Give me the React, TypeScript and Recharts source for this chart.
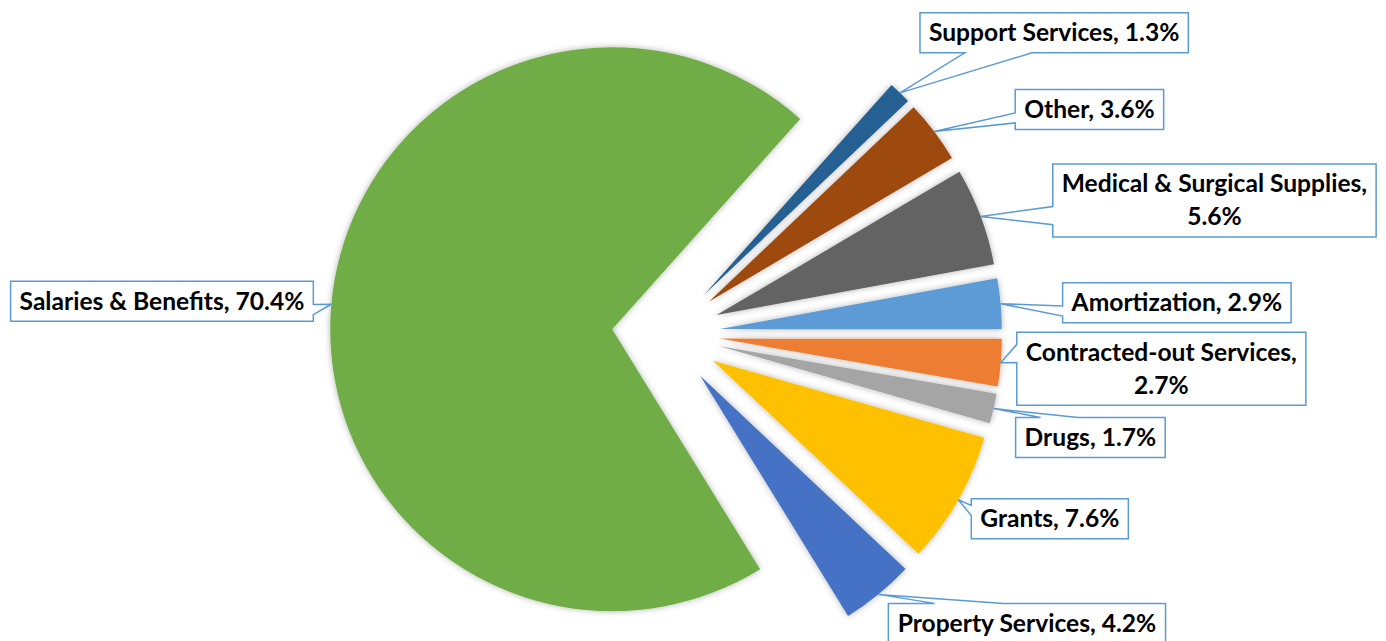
import React from 'react';
import { PieChart, Pie, Cell, Sector } from 'recharts';

// ---- data (Excel series order, drawn clockwise) ----
const categories = [
  'Amortization',
  'Contracted-out Services',
  'Drugs',
  'Grants',
  'Property Services',
  'Salaries & Benefits',
  'Support Services',
  'Other',
  'Medical & Surgical Supplies',
];
const shares = [2.9, 2.7, 1.7, 7.6, 4.2, 70.4, 1.3, 3.6, 5.6];
const colors = ['#5B9BD5', '#ED7D31', '#A5A5A5', '#FFC000', '#4472C4', '#70AD47', '#255E91', '#9E480E', '#636363'];

// ---- callout placement (gap from slice tip to near box edge, vertical shift of box centre) ----
const calloutGap = [62, 16, 22, 13, 10, 18, 20, 81, 72];
const calloutShift = [-1, 6, 29, 19, 29, -3, -60, -22, -16];

const data = categories.map((name, i) => ({ name, value: shares[i] }));

const RAD = Math.PI / 180;
const EXPLODE = 54;
const FONT = 'Lato';
const FONT_SIZE = 24.6;
const LINE_H = 33;
const PAD_X = 9;

let measureCtx: CanvasRenderingContext2D | null = null;
function measure(text: string): number {
  if (!measureCtx) measureCtx = document.createElement('canvas').getContext('2d');
  if (!measureCtx) return text.length * FONT_SIZE * 0.5;
  measureCtx.font = `700 ${FONT_SIZE}px ${FONT}`;
  return measureCtx.measureText(text).width;
}

function labelLines(i: number): string[] {
  const name = categories[i];
  const pct = `${shares[i].toFixed(1)}%`;
  return name.length > 20 ? [`${name},`, pct] : [`${name}, ${pct}`];
}

// Excel "wedgeRectCallout" geometry
function calloutPath(l: number, t: number, w: number, h: number, tx: number, ty: number): string {
  const r = l + w;
  const b = t + h;
  const dx = tx - (l + w / 2);
  const dy = ty - (t + h / 2);
  const horiz = Math.abs(dx * h) > Math.abs(dy * w);
  if (horiz) {
    const ya = t + (h * (dy > 0 ? 7 : 2)) / 12;
    const yb = t + (h * (dy > 0 ? 10 : 5)) / 12;
    if (dx > 0) {
      return `M${l},${t}L${r},${t}L${r},${ya}L${tx},${ty}L${r},${yb}L${r},${b}L${l},${b}Z`;
    }
    return `M${l},${t}L${r},${t}L${r},${b}L${l},${b}L${l},${yb}L${tx},${ty}L${l},${ya}Z`;
  }
  const xa = l + (w * (dx > 0 ? 7 : 2)) / 12;
  const xb = l + (w * (dx > 0 ? 10 : 5)) / 12;
  if (dy > 0) {
    return `M${l},${t}L${r},${t}L${r},${b}L${xb},${b}L${tx},${ty}L${xa},${b}L${l},${b}Z`;
  }
  return `M${l},${t}L${xa},${t}L${tx},${ty}L${xb},${t}L${r},${t}L${r},${b}L${l},${b}Z`;
}

const renderSlice = (props: any) => {
  const { cx, cy, startAngle, endAngle, innerRadius, outerRadius, fill } = props;
  const mid = (startAngle + endAngle) / 2;
  const ox = EXPLODE * Math.cos(-mid * RAD);
  const oy = EXPLODE * Math.sin(-mid * RAD);
  const fid = `shadow-${Math.round(Math.abs(mid) * 100)}`;
  return (
    <g>
      <defs>
        <filter id={fid} x="-20%" y="-20%" width="140%" height="140%">
          <feDropShadow dx="0" dy="0" stdDeviation="3" floodColor="#000" floodOpacity="0.3" />
        </filter>
      </defs>
      <Sector
        cx={cx + ox}
        cy={cy + oy}
        innerRadius={innerRadius}
        outerRadius={outerRadius}
        startAngle={startAngle}
        endAngle={endAngle}
        fill={fill}
        stroke="none"
        filter={`url(#${fid})`}
      />
    </g>
  );
};

const renderCallout = (props: any) => {
  const { cx, cy, midAngle, outerRadius, index } = props;
  const c = Math.cos(-midAngle * RAD);
  const s = Math.sin(-midAngle * RAD);
  const tipX = cx + (outerRadius + EXPLODE) * c;
  const tipY = cy + (outerRadius + EXPLODE) * s;
  const lines = labelLines(index);
  const w = Math.max(...lines.map(measure)) + PAD_X * 2;
  const h = 7 + LINE_H * lines.length;
  const left = c >= 0 ? tipX + calloutGap[index] : tipX - calloutGap[index] - w;
  const top = tipY + calloutShift[index] - h / 2;
  return (
    <g key={`callout-${index}`}>
      <path d={calloutPath(left, top, w, h, tipX, tipY)} fill="#FFFFFF" stroke="#5B9BD5" strokeWidth={1.5} />
      {lines.map((ln, i) => (
        <text
          key={i}
          x={left + w / 2}
          y={top + 28.5 + LINE_H * i}
          textAnchor="middle"
          fontFamily={FONT}
          fontWeight={700}
          fontSize={FONT_SIZE}
          fill="#000000"
        >
          {ln}
        </text>
      ))}
    </g>
  );
};

export default function App() {
  return (
    <div style={{ position: 'absolute', left: 0, top: 0, width: 1386, height: 641, background: '#FFFFFF' }}>
      <PieChart width={1386} height={641} margin={{ top: 0, right: 0, bottom: 0, left: 0 }}>
        <Pie
          data={data}
          dataKey="value"
          nameKey="name"
          cx={666}
          cy={334}
          innerRadius={0}
          outerRadius={282}
          startAngle={10.4}
          endAngle={-349.6}
          stroke="none"
          isAnimationActive={false}
          shape={renderSlice}
          activeShape={renderSlice}
          inactiveShape={renderSlice}
          label={renderCallout}
          labelLine={false}
        >
          {data.map((d, i) => (
            <Cell key={d.name} fill={colors[i]} />
          ))}
        </Pie>
      </PieChart>
    </div>
  );
}
